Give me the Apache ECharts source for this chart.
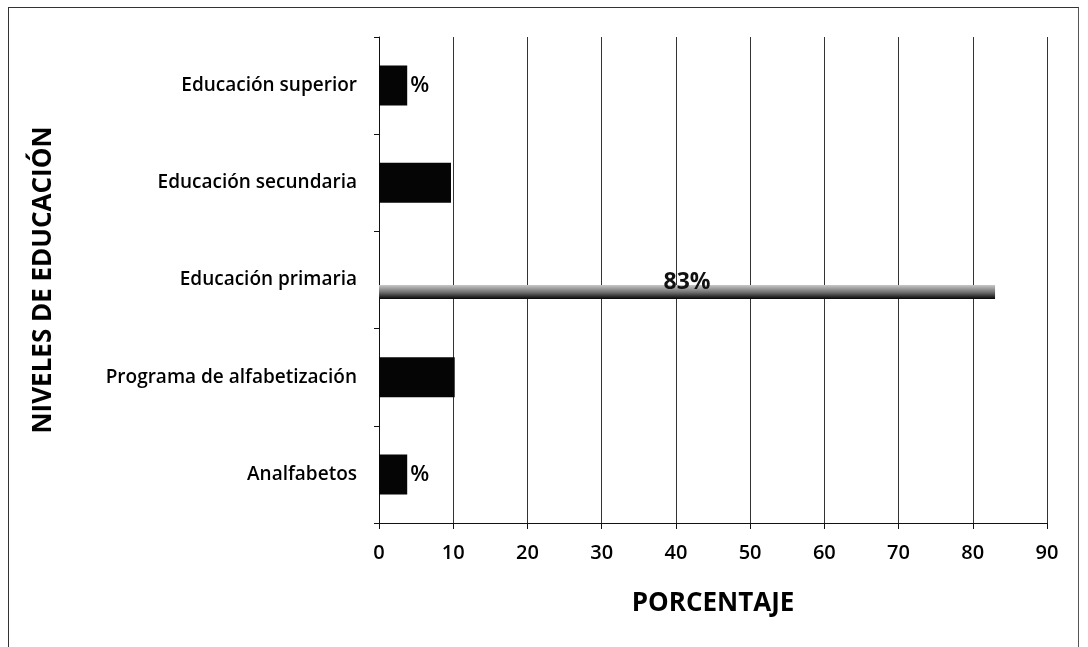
<!DOCTYPE html>
<html>
<head>
<meta charset="utf-8">
<script src="https://cdn.jsdelivr.net/npm/echarts@6/dist/echarts.min.js"></script>
<style>
html,body{margin:0;padding:0;background:#fff;}
#frame{position:absolute;left:8px;top:7px;width:1071px;height:640px;border-left:1px solid #333;border-top:1px solid #333;border-right:1px solid #555;box-sizing:border-box;}
#chart{position:absolute;left:0;top:0;width:1088px;height:647px;}
</style>
</head>
<body>
<div id="frame"></div>
<div id="chart"></div>
<script>
// bottom to top
const categories = ['Analfabetos', 'Programa de alfabetización', 'Educación primaria', 'Educación secundaria', 'Educación superior'];
const values = [3.8, 10.2, 83, 9.7, 3.8];
const labels = ['%', '', '83%', '', '%'];
const xTicks = [0, 10, 20, 30, 40, 50, 60, 70, 80, 90];
const thinIndex = 2; // Educación primaria drawn as thin bar

const font = '"Open Sans", "Liberation Sans", sans-serif';

const thickData = values.map((v, i) => i === thinIndex ? '-' : {
  value: v,
  label: {show: labels[i] !== '', formatter: labels[i]}
});
const thinData = values.map((v, i) => i === thinIndex ? {
  value: v,
  label: {show: true, formatter: labels[i]}
} : '-');

const chart = echarts.init(document.getElementById('chart'), null, {renderer: 'canvas'});
chart.setOption({
  animation: false,
  backgroundColor: 'transparent',
  grid: {left: 379, right: 41, top: 37, bottom: 124, containLabel: false},
  xAxis: {
    type: 'value', min: xTicks[0], max: xTicks[xTicks.length - 1], interval: 10,
    name: 'PORCENTAJE', nameLocation: 'middle', nameGap: 68,
    nameTextStyle: {fontFamily: font, fontWeight: 'bold', fontSize: 26, color: '#000'},
    axisLine: {show: true, lineStyle: {color: '#111', width: 1}},
    axisTick: {show: true, length: 6, lineStyle: {color: '#111'}},
    axisLabel: {fontFamily: font, fontWeight: 600, fontSize: 20, color: '#000', margin: 20},
    splitLine: {show: true, lineStyle: {color: '#333', width: 1}}
  },
  yAxis: [{
    type: 'category', data: categories,
    name: 'NIVELES DE EDUCACIÓN', nameLocation: 'middle', nameGap: 322, nameRotate: 90,
    nameTextStyle: {fontFamily: font, fontWeight: 'bold', fontSize: 26, color: '#000'},
    axisLine: {show: true, lineStyle: {color: '#111', width: 1}},
    axisTick: {show: true, length: 5, lineStyle: {color: '#111'}},
    axisLabel: {fontFamily: font, fontWeight: 600, fontSize: 19, color: '#000', margin: 22},
    splitLine: {show: false}
  }, {
    type: 'category', data: categories, position: 'left',
    axisLine: {show: false}, axisTick: {show: false}, axisLabel: {show: false}, splitLine: {show: false}
  }],
  series: [{
    type: 'bar', yAxisIndex: 0, data: thickData, barWidth: 40,
    itemStyle: {color: '#050505'},
    label: {position: 'right', distance: 3, fontFamily: font, fontWeight: 600, fontSize: 22, color: '#000'}
  }, {
    type: 'bar', yAxisIndex: 1, data: values.map(() => '-'), barWidth: 24, barGap: 0,
    itemStyle: {color: 'transparent'}, silent: true
  }, {
    type: 'bar', yAxisIndex: 1, data: thinData, barWidth: 14, barGap: 0,
    itemStyle: {color: new echarts.graphic.LinearGradient(0, 0, 0, 1, [
      {offset: 0, color: '#c8c8c8'},
      {offset: 0.55, color: '#6a6a6a'},
      {offset: 1, color: '#050505'}
    ])},
    label: {position: 'top', distance: -9, fontFamily: font, fontWeight: 'bold', fontSize: 23, color: '#111'}
  }]
});
</script>
</body>
</html>
